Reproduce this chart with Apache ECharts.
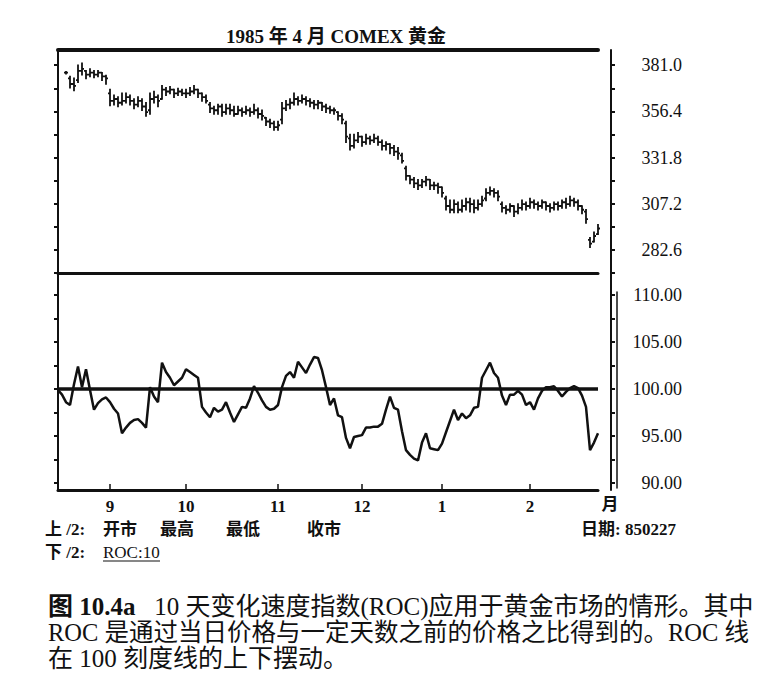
<!DOCTYPE html>
<html>
<head>
<meta charset="utf-8">
<script src="https://cdn.jsdelivr.net/npm/echarts@6.0.0/dist/echarts.min.js"></script>
<style>html,body{margin:0;padding:0;background:#fff}#c{width:780px;height:673px}</style>
</head>
<body>
<div id="c"></div>
<script>
// ---- trading calendar (Aug 15 1984 .. Feb 27 1985, weekdays minus exchange holidays)
const holidays = ['1984-09-03', '1984-11-22', '1984-12-25', '1985-01-01', '1985-02-18'];
const dates = [];
(function () {
  let t = Date.UTC(1984, 7, 15);
  const end = Date.UTC(1985, 1, 27);
  while (t <= end) {
    const d = new Date(t);
    const wd = d.getUTCDay();
    const s = d.toISOString().slice(0, 10);
    if (wd !== 0 && wd !== 6 && holidays.indexOf(s) < 0) dates.push(s);
    t += 86400000;
  }
})();

// ---- daily price bars (open / high / low / close), $ per ounce
const priceOpen = [
  null,null,377,374,371,373,378,378,376,377,
  376,377,375,366,362,363,361,362,364,362,
  360,362,359,357,363,364,363,368,367,368,
  366,367,366,366,367,368,366,364,360,358,
  357,359,356,358,357,355,357,356,357,356,
  357,355,353,351,350,348,352,358,360,361,
  363,362,363,362,361,360,361,359,358,357,
  356,354,350,342,338,341,343,340,342,341,
  342,340,338,339,337,335,333,326,322,320,
  318,317,319,320,317,317,316,310,306,304,
  307,304,306,308,307,305,307,310,313,314,
  313,307,305,304,306,303,305,307,306,308,
  307,306,308,306,305,307,306,308,307,309,
  308,306,303,288,287,291];
const priceHigh = [
  null,null,377.5,375,374,381,382,378,379,378,
  378,377,375.5,368,365,364,366,366,365,363,
  364,363,361,366,367,365,370,369,369.5,368,
  368.5,368,368,369,370,368,366,365,361,359,
  360,360,360,360,359,359,358,359,358,360,
  358,357,353,352,351,351,361,362,363,366,
  364,365,364,363,362,362,361,360,359,358,
  356,355,351,344,344,345,343,344,343,344,
  343,341,340,339,338,337,334,327,322,321,
  320,320,321.5,320,318.5,318,316,311,309,309,
  308,309,310,310,309,309,311,315,316,315,
  314,308,306,307,306,307,309,308,310,309,
  308,309,308,307,308,308,309,310,311,310,
  309,306,304,289,292,296];
const priceLow = [
  null,null,376.5,369,367.5,372,376,374,375,374.5,
  375,373,371,359.5,360,359,360,361,360,358,
  359,357,354,355,361,359,363,365,366,364,
  365,365,364,365,366,364,362,361,356,355,
  355,354,355,355,354,355,354,355,354,355,
  353,352,349,348,346.5,346.5,350,357,358,360,
  360,361,360,359,358,358,357,356,355.5,355,
  352,350,340,336,337,340,338,339,339,340,
  338.5,336,336,334,333,331,329,320,318,316,
  315,316,317,315,315,313,311,304,302.5,302.5,
  302.5,303,304,303,302.5,304,306,309,312,311,
  309,303,302,303,300.5,302,304,304,305,305,
  304,305,304,303,304,304,305,305,306,306,
  304,302,297,284,287,291];
const priceClose = [
  null,null,377,371,370,378,379,376,377,376,
  377,375,374,362,363,361,362,364,362,360,
  362,359,356,363,364,362,368,367,368,366,
  367,366,366,367,368,366,364,362,358,357,
  359,356,358,357,355,357,356,357,356,357,
  355,354,351,350,348,349,358,360,361,363,
  362,363,362,361,360,361,359,358,357,357,
  354,352,343,338,341,343,340,342,341,342,
  340,338,339,337,335,334,330,322,320,318,
  317,319,320,317,317,316,313,306,304,307,
  304,306,308,307,305,307,309,313,314,313,
  311,305,304,306,303,305,307,306,308,307,
  306,308,306,305,307,306,308,307,309,308,
  306,304,299,286,290,294];

// ---- 10-day rate of change (ROC:10)
const roc10 = [
  99.9,99.4,98.6,98.3,100.5,102.4,100.2,102.1,99.9,97.8,
  98.5,98.9,99.1,98.6,97.9,97.4,95.3,95.9,96.4,96.7,
  96.8,96.4,95.9,100.2,99.2,98.6,102.8,101.8,101.2,100.4,
  100.8,101.2,102.1,101.8,101.5,101.2,98.1,97.5,97.0,98.0,
  97.6,97.8,98.6,97.5,96.5,97.3,98.1,98.0,99.0,100.3,
  99.6,98.8,98.1,97.8,97.9,98.3,100.2,101.4,101.8,101.2,
  102.9,102.3,101.7,102.6,103.4,103.3,102.0,100.2,98.3,99.0,
  97.2,97.0,94.8,93.7,94.9,95.0,95.1,95.9,95.9,96.0,
  96.0,96.3,97.8,99.2,98.0,97.8,95.5,93.5,93.0,92.6,
  92.4,94.3,95.3,93.7,93.6,93.5,94.2,95.4,96.6,97.8,
  96.7,97.4,96.9,97.2,98.0,98.1,101.2,102.0,102.8,101.7,
  101.2,99.3,98.3,99.4,99.4,99.8,99.4,98.3,98.6,97.8,
  99.0,99.8,100.2,100.2,100.3,99.8,99.2,99.7,100.1,100.3,
  100.1,99.3,98.1,93.5,94.3,95.3];

// ---- axis ticks / labels
const priceTicks = [270.3, 282.6, 294.9, 307.2, 319.5, 331.8, 344.1, 356.4, 368.7, 381.0];
const priceLabels = [282.6, 307.2, 331.8, 356.4, 381.0];
const rocTicks = [90, 92.5, 95, 97.5, 100, 102.5, 105, 107.5, 110];
const rocLabels = [90, 95, 100, 105, 110];
const rocCenter = 100;

// ---- build OHLC items
const ohlc = [];
for (let i = 0; i < dates.length; i++) {
  if (priceClose[i] != null) ohlc.push([i, priceOpen[i], priceClose[i], priceLow[i], priceHigh[i]]);
}

const INK = '#111';
const SERIF = "'Liberation Serif', 'Noto Sans CJK SC', serif";
const monthStart = i => i > 0 && dates[i] && dates[i].slice(5, 7) !== dates[i - 1].slice(5, 7);

function txt(x, y, text, size, opts) {
  opts = opts || {};
  const st = {
    text: text,
    font: (opts.bold ? 'bold ' : '') + size + 'px ' + (opts.family || SERIF),
    fill: INK,
    textAlign: opts.align || 'left', align: opts.align || 'left',
    textVerticalAlign: 'middle', verticalAlign: 'middle'
  };
  if (opts.rich) st.rich = opts.rich;
  return { type: 'text', x: x, y: y, silent: true, style: st };
}

const capRich = { b: { fontFamily: SERIF, fontWeight: 'bold', fontSize: 25, fill: INK, color: INK } };

const chart = echarts.init(document.getElementById('c'), null, { renderer: 'svg' });
chart.setOption({
  backgroundColor: '#fff',
  animation: false,
  grid: [
    { left: 58, right: 182, top: 50, height: 223 },
    { left: 58, right: 182, top: 273, height: 217 },
    { left: 58, right: 182, top: 292, height: 196 }
  ],
  xAxis: [
    { gridIndex: 0, type: 'category', data: dates, boundaryGap: false, position: 'bottom',
      axisLine: { lineStyle: { color: INK, width: 3 } }, axisTick: { show: false }, axisLabel: { show: false }, splitLine: { show: false } },
    { gridIndex: 0, type: 'category', data: dates, boundaryGap: false, position: 'top',
      axisLine: { lineStyle: { color: INK, width: 4 } }, axisTick: { show: false }, axisLabel: { show: false }, splitLine: { show: false } },
    { gridIndex: 1, type: 'category', data: dates, boundaryGap: false, position: 'bottom',
      axisLine: { lineStyle: { color: INK, width: 3 } },
      axisTick: { show: true, inside: true, length: 6, interval: (i) => monthStart(i), lineStyle: { color: INK, width: 1.5 } },
      axisLabel: { show: true, interval: (i) => monthStart(i), formatter: v => String(+v.slice(5, 7)),
        margin: 8, fontSize: 17, fontWeight: 'bold', fontFamily: SERIF, color: INK },
      splitLine: { show: false } },
    { gridIndex: 2, type: 'category', data: dates, boundaryGap: false, show: false }
  ],
  yAxis: [
    { gridIndex: 0, type: 'value', position: 'right', offset: 13, min: 270.3, max: 389.1,
      axisLine: { show: true, lineStyle: { color: INK, width: 2 } },
      axisTick: { show: true, customValues: priceTicks, length: 4, lineStyle: { color: INK, width: 2 } },
      axisLabel: { customValues: priceLabels, formatter: v => Number(v).toFixed(1), align: 'right', margin: 71,
        fontSize: 18, fontFamily: SERIF, color: INK },
      splitLine: { show: false } },
    { gridIndex: 0, type: 'value', position: 'left', min: 270.3, max: 389.1,
      axisLine: { show: true, lineStyle: { color: INK, width: 2 } },
      axisTick: { show: true, customValues: priceTicks, length: 4, lineStyle: { color: INK, width: 2 } },
      axisLabel: { show: false }, splitLine: { show: false } },
    { gridIndex: 1, type: 'value', position: 'right', offset: 13, min: 89.26, max: 112.34,
      axisLine: { show: true, lineStyle: { color: INK, width: 2 } },
      axisTick: { show: true, customValues: rocTicks, length: 4, lineStyle: { color: INK, width: 2 } },
      axisLabel: { customValues: rocLabels, formatter: v => Number(v).toFixed(2), align: 'right', margin: 71,
        fontSize: 18, fontFamily: SERIF, color: INK },
      splitLine: { show: false } },
    { gridIndex: 1, type: 'value', position: 'left', min: 89.26, max: 112.34,
      axisLine: { show: true, lineStyle: { color: INK, width: 2 } },
      axisTick: { show: true, customValues: rocTicks, length: 4, lineStyle: { color: INK, width: 2 } },
      axisLabel: { show: false }, splitLine: { show: false } },
    { gridIndex: 2, type: 'value', position: 'right', offset: 19, min: 0, max: 1,
      axisLine: { show: true, lineStyle: { color: INK, width: 1.5 } },
      axisTick: { show: false }, axisLabel: { show: false }, splitLine: { show: false } }
  ],
  series: [
    {
      name: 'COMEX 黄金', type: 'custom', xAxisIndex: 0, yAxisIndex: 0,
      encode: { x: 0, y: [1, 2, 3, 4] },
      data: ohlc,
      renderItem: function (params, api) {
        const i = api.value(0);
        const o = api.coord([i, api.value(1)]);
        const c = api.coord([i, api.value(2)]);
        const l = api.coord([i, api.value(3)]);
        const h = api.coord([i, api.value(4)]);
        const x = l[0], t = 2;
        const st = { stroke: INK, lineWidth: 1.8 };
        return { type: 'group', children: [
          { type: 'line', shape: { x1: x, y1: h[1] - 0.8, x2: x, y2: l[1] + 0.8 }, style: st },
          { type: 'line', shape: { x1: x - t, y1: o[1], x2: x, y2: o[1] }, style: st },
          { type: 'line', shape: { x1: x, y1: c[1], x2: x + t, y2: c[1] }, style: st }
        ] };
      }
    },
    {
      name: 'ROC:10', type: 'line', xAxisIndex: 2, yAxisIndex: 2,
      data: roc10, showSymbol: false, symbol: 'none',
      lineStyle: { color: INK, width: 2.5 },
      markLine: { silent: true, symbol: ['none', 'none'], label: { show: false },
        lineStyle: { color: INK, width: 3.5, type: 'solid' },
        data: [{ yAxis: rocCenter }] }
    }
  ],
  graphic: [
    txt(336, 36, '1985 年 4 月 COMEX 黄金', 19, { bold: true, align: 'center' }),
    txt(610, 504, '月', 17, { bold: true, align: 'center' }),
    txt(581, 529, '日期: 850227', 17, { bold: true }),
    txt(45, 529, '上 /2:', 17, { bold: true }),
    txt(103, 529, '开市', 17, { bold: true }),
    txt(160, 529, '最高', 17, { bold: true }),
    txt(226, 529, '最低', 17, { bold: true }),
    txt(307, 529, '收市', 17, { bold: true }),
    txt(45, 552, '下 /2:', 17, { bold: true }),
    txt(103, 552, 'ROC:10', 17, {}),
    { type: 'line', silent: true, shape: { x1: 103, y1: 561, x2: 160, y2: 561 }, style: { stroke: INK, lineWidth: 1.2 } },
    txt(48, 606, '{b|图 10.4a}   10 天变化速度指数(ROC)应用于黄金市场的情形。其中', 25, { rich: capRich }),
    txt(48, 632, 'ROC 是通过当日价格与一定天数之前的价格之比得到的。ROC 线', 24.5, {}),
    txt(48, 658, '在 100 刻度线的上下摆动。', 25, {})
  ]
});
</script>
</body>
</html>
